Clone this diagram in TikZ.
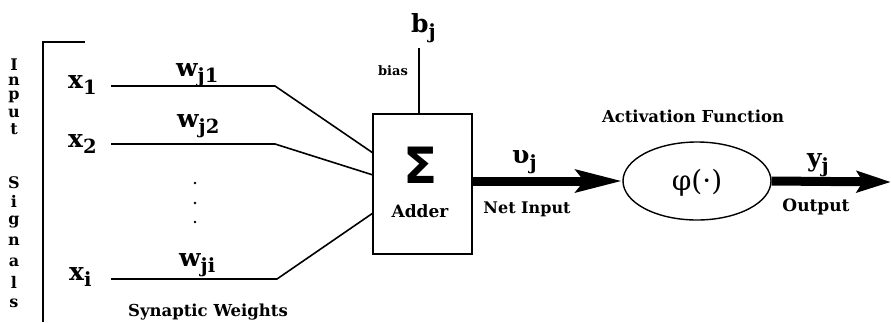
\documentclass[tikz,border=0pt]{standalone}
\usepackage{fontspec}
\setmainfont{DejaVu Serif}
\newfontfamily\sigmafont{DejaVu Sans}
\usetikzlibrary{arrows.meta,shapes.geometric}
\newcommand{\mysub}[2][0.78]{\raisebox{-0.5ex}{\scalebox{#1}{#2}}}
\newcommand{\fs}[1]{\fontsize{#1}{#1}\selectfont}
\begin{document}
\begin{tikzpicture}[x=1pt,y=-1pt,
  thin line/.style={line width=1.6pt},
  lbl/.style={inner sep=0pt,font=\bfseries},
  big/.style={lbl,anchor=base west,font=\bfseries\fs{25}},
  small/.style={lbl,font=\bfseries\fs{16.5}},
  vletter/.style={lbl,font=\bfseries\fs{16}},
  fat arrow/.style={line width=9pt}
]
\useasboundingbox (0,0) rectangle (891,322);

% vertical "Input Signals"
\foreach \ch/\yy [count=\i] in {I/65,n/81,p/97,u/113,t/129,S/183,i/201,g/222,n/241,a/262,l/282,s/303}
  \node[vletter] (v\i) at (14,\yy) {\ch};

% bracket
\coordinate (brb) at (43,322);
\coordinate (brc) at (43,42);
\coordinate (brt) at (85,42);
\draw[thin line] (brb) -- (brc) -- (brt);

% inputs
\node[big] (x1) at (68,88) {x\mysub{1}};
\node[big] (x2) at (68,147) {x\mysub{2}};
\node[big] (xi) at (69,280) {x\mysub{i}};

% adder box
\node[draw,line width=1.6pt,minimum width=99pt,minimum height=140pt,inner sep=0pt] (box) at (422.5,184) {};
\node[lbl,font=\sigmafont\bfseries\fs{50}] (sigma) at (421,165) {Σ};
\node[lbl,font=\bfseries\fs{17}] (adder) at (420,211) {Adder};

% input lines
\coordinate (s1) at (111,86);  \coordinate (k1) at (275,86);  \coordinate (e1) at (373,153);
\coordinate (s2) at (111,144); \coordinate (k2) at (275,144); \coordinate (e2) at (373,175);
\coordinate (s3) at (111,279); \coordinate (k3) at (277,279); \coordinate (e3) at (373,213);
\draw[thin line] (s1) -- (k1) -- (e1);
\draw[thin line] (s2) -- (k2) -- (e2);
\draw[thin line] (s3) -- (k3) -- (e3);

% weights
\node[big] (w1) at (176,76) {w\mysub{j1}};
\node[big] (w2) at (177,127) {w\mysub{j2}};
\node[big] (wi) at (179,266) {w\mysub{ji}};
\foreach \yy [count=\i] in {183,203,222}
  \fill (195,\yy) circle (1.3pt) coordinate (dot\i);
\node[small] (syn) at (208,312) {Synaptic Weights};

% bias
\coordinate (btop) at (419,48);
\draw[thin line] (btop) -- (btop |- box.north);
\node[big] (bj) at (411,32) {b\mysub{j}};
\node[lbl,font=\bfseries\fs{13}] (bias) at (393,71) {bias};

% activation
\node[draw,ellipse,line width=1.4pt,minimum width=148pt,minimum height=78pt,inner sep=0pt] (act) at (697,181) {};
\node[lbl,font=\fs{28}] (phi) at (697,183) {φ(·)};
\node[small] (actlbl) at (693,116) {Activation Function};

% net input arrow
\draw[fat arrow,-{Stealth[length=46pt,width=22pt,inset=8pt]}] (box.east |- act.west) -- (act.west);
\node[big] (vj) at (512,163) {υ\mysub{j}};
\node[lbl,font=\bfseries\fs{16}] (net) at (527,209) {Net Input};

% output arrow
\coordinate (out) at (891,182);
\draw[fat arrow,-{Stealth[length=34pt,width=21pt,inset=6pt]}] (act.east) -- (out);
\node[big] (yj) at (807,166) {y\mysub{j}};
\node[lbl,font=\bfseries\fs{17}] (outlbl) at (816,207) {Output};
\end{tikzpicture}
\end{document}
